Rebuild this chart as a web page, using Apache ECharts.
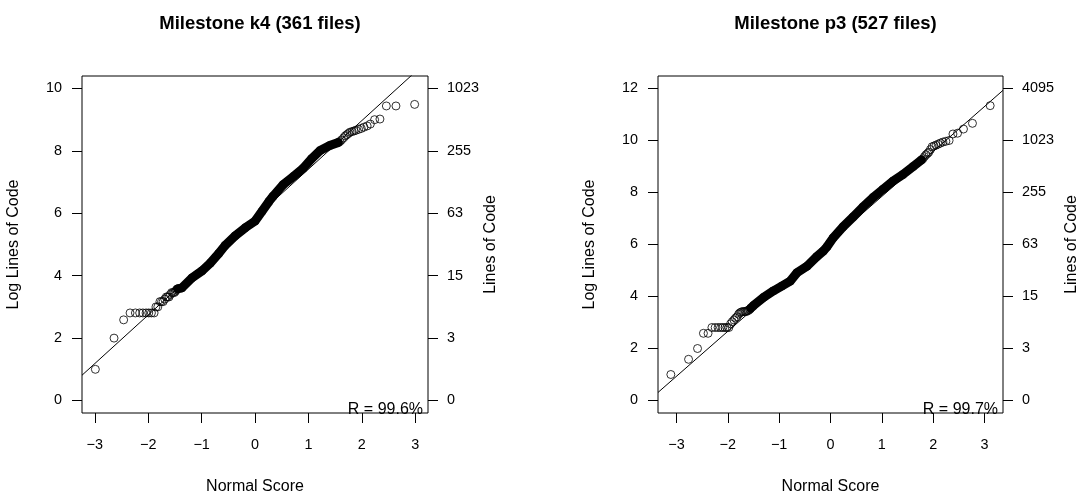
<!DOCTYPE html>
<html><head><meta charset="utf-8">
<script src="https://cdn.jsdelivr.net/npm/echarts@6/dist/echarts.min.js"></script>
<style>html,body{margin:0;padding:0;background:#fff}#c{width:1082px;height:500px}</style>
</head><body><div id="c"></div><script>
// ---------- data ----------
const titles = ['Milestone k4 (361 files)', 'Milestone p3 (527 files)'];
const rLabels = ['R = 99.6%', 'R = 99.7%'];
const xTitle = 'Normal Score';
const yTitleLeft = 'Log Lines of Code';
const yTitleRight = 'Lines of Code';
const xTicks = [-3, -2, -1, 0, 1, 2, 3];
const k4YTicks = [0, 2, 4, 6, 8, 10];
const p3YTicks = [0, 2, 4, 6, 8, 10, 12];
const k4LocLabels = ['0', '3', '15', '63', '255', '1023'];
const p3LocLabels = ['0', '3', '15', '63', '255', '1023', '4095'];
// normal score, log2 lines of code
const k4Points = [
  [-2.99,1.0],[-2.64,2.0],[-2.46,2.585],[-2.34,2.807],[-2.24,2.807],[-2.16,2.807],[-2.10,2.807],
  [-2.04,2.807],[-1.99,2.807],[-1.94,2.807],[-1.89,2.807],[-1.855,3.0],[-1.82,3.0],[-1.78,3.17],
  [-1.75,3.17],[-1.72,3.17],[-1.69,3.25],[-1.66,3.32],[-1.635,3.32],[-1.61,3.32],[-1.585,3.40],
  [-1.56,3.46],[-1.535,3.46],[-1.51,3.46],[-1.49,3.50],[-1.47,3.55],[-1.45,3.58],
  [-1.37,3.61],[-1.18,3.93],[-0.99,4.16],[-0.84,4.40],[-0.68,4.71],[-0.56,4.97],[-0.37,5.28],
  [-0.18,5.54],[0.0,5.75],[0.13,6.06],[0.26,6.375],[0.34,6.55],[0.53,6.92],[0.72,7.18],
  [0.90,7.44],[1.06,7.75],[1.22,8.01],[1.40,8.17],[1.56,8.27],
  [1.59,8.30],[1.62,8.35],[1.66,8.42],[1.69,8.48],[1.72,8.52],[1.75,8.56],[1.78,8.60],
  [1.82,8.62],[1.855,8.64],[1.89,8.66],[1.94,8.69],[1.99,8.72],[2.04,8.76],[2.10,8.80],
  [2.16,8.86],[2.24,9.0],[2.34,9.02],[2.46,9.44],[2.64,9.44],[2.99,9.49]
];
const k4Band = [
  [-1.45,3.58],[-1.37,3.61],[-1.18,3.93],[-0.99,4.16],[-0.84,4.40],[-0.68,4.71],[-0.56,4.97],
  [-0.37,5.28],[-0.18,5.54],[0.0,5.75],[0.13,6.06],[0.26,6.375],[0.34,6.55],[0.53,6.92],
  [0.72,7.18],[0.90,7.44],[1.06,7.75],[1.22,8.01],[1.40,8.17],[1.56,8.27]
];
const p3Points = [
  [-3.11,1.0],[-2.765,1.585],[-2.59,2.0],[-2.475,2.585],[-2.385,2.585],[-2.31,2.807],[-2.247,2.807],
  [-2.19,2.807],[-2.14,2.807],[-2.097,2.807],[-2.055,2.807],[-2.017,2.807],[-1.98,2.807],
  [-1.946,2.95],[-1.914,3.03],[-1.88,3.10],[-1.85,3.17],[-1.82,3.22],[-1.79,3.32],[-1.765,3.37],
  [-1.74,3.40],[-1.715,3.42],[-1.69,3.42],[-1.665,3.42],[-1.64,3.42],[-1.62,3.46],[-1.60,3.46],
  [-1.575,3.50],[-1.555,3.55],
  [-1.50,3.65],[-1.30,3.97],[-1.11,4.22],[-0.95,4.40],[-0.785,4.59],[-0.655,4.91],[-0.46,5.16],
  [-0.27,5.53],[-0.14,5.75],[-0.07,5.91],[0.05,6.25],[0.245,6.68],[0.44,7.06],[0.63,7.44],
  [0.83,7.81],[1.02,8.12],[1.22,8.44],[1.41,8.69],[1.61,9.0],[1.77,9.25],
  [1.80,9.30],[1.83,9.38],[1.86,9.45],[1.89,9.50],[1.914,9.55],[1.946,9.65],[1.98,9.76],
  [2.017,9.79],[2.055,9.82],[2.097,9.86],[2.14,9.90],[2.19,9.94],[2.247,9.97],[2.31,10.0],
  [2.385,10.25],[2.475,10.28],[2.59,10.44],[2.765,10.66],[3.11,11.34]
];
const p3Band = [
  [-1.555,3.55],[-1.50,3.65],[-1.30,3.97],[-1.11,4.22],[-0.95,4.40],[-0.785,4.59],[-0.655,4.91],
  [-0.46,5.16],[-0.27,5.53],[-0.14,5.75],[-0.07,5.91],[0.05,6.25],[0.245,6.68],[0.44,7.06],
  [0.63,7.44],[0.83,7.81],[1.02,8.12],[1.22,8.44],[1.41,8.69],[1.61,9.0],[1.77,9.25]
];
// reference line: intercept, slope
const k4Fit = [5.855, 1.557];
const p3Fit = [6.12, 1.729];
const xRanges = [[-3.24, 3.24], [-3.36, 3.36]];
const yRanges = [[-0.4, 10.4], [-0.48, 12.48]];

// ---------- chart ----------
const FONT = "'Liberation Sans', Arial, Helvetica, sans-serif";
const panels = [
  {pts: k4Points, band: k4Band, fit: k4Fit, yt: k4YTicks, loc: k4LocLabels},
  {pts: p3Points, band: p3Band, fit: p3Fit, yt: p3YTicks, loc: p3LocLabels}
];
const grids = [
  {left: 82, top: 76, width: 346, height: 346},
  {left: 658, top: 76, width: 345, height: 346}
];
const rightNameGap = [48, 61];
const TICK_FS = 14.4;

const option = {
  animation: false,
  backgroundColor: '#fff',
  textStyle: {fontFamily: FONT},
  title: panels.map((p, i) => ({
    text: titles[i],
    left: grids[i].left + grids[i].width / 2,
    textAlign: 'center',
    top: 9,
    textStyle: {fontSize: 18.5, fontWeight: 'bold', color: '#000', fontFamily: FONT}
  })),
  grid: grids.map(g => Object.assign({show: true, borderColor: '#000', borderWidth: 1, containLabel: false}, g)),
  xAxis: panels.map((p, i) => ({
    type: 'value', gridIndex: i, min: xRanges[i][0], max: xRanges[i][1], position: 'bottom',
    axisLine: {show: false, onZero: false},
    axisTick: {show: true, customValues: xTicks, length: 10, lineStyle: {color: '#000', width: 1}},
    axisLabel: {customValues: xTicks, margin: 25, fontSize: TICK_FS, color: '#000', fontFamily: FONT,
      formatter: v => (v < 0 ? '\u2212' + Math.abs(v) : String(v))},
    splitLine: {show: false},
    name: xTitle, nameLocation: 'middle', nameGap: 66,
    nameTextStyle: {fontSize: 16, color: '#000', fontFamily: FONT}
  })),
  yAxis: [].concat(...panels.map((p, i) => [
    {
      type: 'value', gridIndex: i, min: yRanges[i][0], max: yRanges[i][1], position: 'left',
      axisLine: {show: false, onZero: false},
      axisTick: {show: true, customValues: p.yt, length: 10, lineStyle: {color: '#000'}},
      axisLabel: {customValues: p.yt, margin: 20, fontSize: TICK_FS, color: '#000', fontFamily: FONT},
      splitLine: {show: false},
      name: yTitleLeft, nameLocation: 'middle', nameGap: 60, nameRotate: 90,
      nameTextStyle: {fontSize: 16, color: '#000', fontFamily: FONT}
    },
    {
      type: 'value', gridIndex: i, min: yRanges[i][0], max: yRanges[i][1], position: 'right',
      axisLine: {show: false, onZero: false},
      axisTick: {show: true, customValues: p.yt, length: 10, lineStyle: {color: '#000'}},
      axisLabel: {customValues: p.yt, margin: 19, fontSize: TICK_FS, color: '#000', fontFamily: FONT,
        formatter: v => p.loc[p.yt.indexOf(Math.round(v))]},
      splitLine: {show: false},
      name: yTitleRight, nameLocation: 'middle', nameGap: rightNameGap[i], nameRotate: 90,
      nameTextStyle: {fontSize: 16, color: '#000', fontFamily: FONT}
    }
  ])),
  series: [].concat(...panels.map((p, i) => [
    {
      type: 'line', xAxisIndex: i, yAxisIndex: 2 * i, data: p.band, symbol: 'none', z: 2,
      lineStyle: {color: '#000', width: 9, cap: 'round', join: 'round'}, silent: true
    },
    {
      type: 'scatter', xAxisIndex: i, yAxisIndex: 2 * i, data: p.pts, symbol: 'circle', symbolSize: 8, z: 3,
      itemStyle: {color: 'rgba(0,0,0,0)', borderColor: '#000', borderWidth: 1}, silent: true
    },
    {
      type: 'line', xAxisIndex: i, yAxisIndex: 2 * i, symbol: 'none', clip: true, z: 4, silent: true,
      data: xRanges[i].map(x => [x, p.fit[0] + p.fit[1] * x]),
      lineStyle: {color: '#000', width: 1}
    }
  ])),
  graphic: panels.map((p, i) => ({
    type: 'text', z: 10,
    x: grids[i].left + grids[i].width - 5, y: 410,
    style: {text: rLabels[i], align: 'right', verticalAlign: 'middle', fontSize: 16, fill: '#000', fontFamily: FONT}
  }))
};
const chart = echarts.init(document.getElementById('c'), null, {renderer: 'canvas'});
chart.setOption(option);
</script></body></html>
